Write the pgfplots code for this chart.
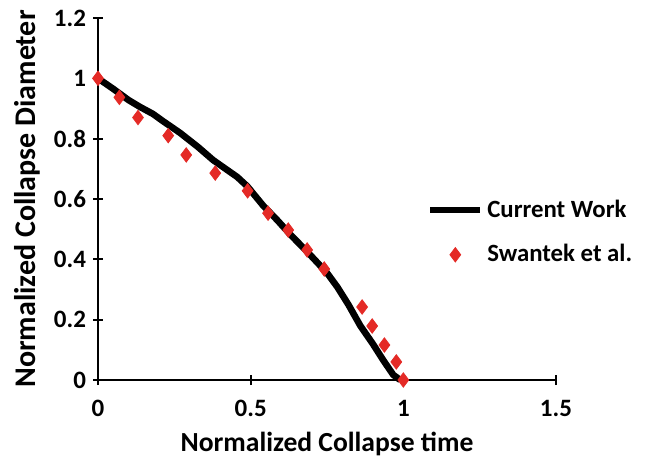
\documentclass[border=0pt]{standalone}
\usepackage{pgfplots}
\pgfplotsset{compat=1.18}
\usepackage{fontspec}
\setmainfont{Carlito}
\definecolor{swred}{RGB}{228,42,38}
\begin{document}
\begin{tikzpicture}
\path (0,0) rectangle (323pt,227.5pt);
\begin{axis}[
  at={(49pt,37.5pt)}, anchor=south west,
  scale only axis, width=229pt, height=181pt,
  xmin=0, xmax=1.5, ymin=0, ymax=1.2,
  xtick={0,0.5,1,1.5}, ytick={0,0.2,0.4,0.6,0.8,1,1.2},
  axis x line=bottom, axis y line=left,
  axis line style={-, line width=1pt, black},
  tick style={line width=1pt, black},
  tick align=center, major tick length=5pt,
  clip=false,
  /pgf/number format/assume math mode=true,
  tick label style={font=\bfseries\fontsize{12.5}{14}\selectfont},
  xticklabel style={yshift=-4pt},
  xlabel={Normalized Collapse time},
  ylabel={Normalized Collapse Diameter},
  xlabel style={font=\bfseries\fontsize{13.8}{16}\selectfont,
    at={(axis description cs:0.5,-0.178)}, anchor=center},
  ylabel style={font=\bfseries\fontsize{15}{17}\selectfont,
    at={(axis description cs:-0.154,0.5)}, anchor=center},
  legend style={at={(axis description cs:0.705,0.52)}, anchor=north west,
    draw=none, fill=none, row sep=8pt,
    font=\bfseries\fontsize{12.4}{14}\selectfont},
  legend cell align=left,
]
\addplot[black, line width=3.3pt, line join=round,
  legend image code/.code={\draw[black,line width=3pt] (0cm,0cm) -- (0.88cm,0cm);}]
coordinates {
(0,1.0) (0.05,0.965) (0.10,0.928) (0.138,0.905) (0.18,0.882) (0.213,0.858)
(0.269,0.819) (0.328,0.772) (0.377,0.729) (0.456,0.673) (0.489,0.642)
(0.541,0.578) (0.587,0.530) (0.63,0.482) (0.69,0.420) (0.75,0.355)
(0.784,0.308) (0.82,0.250) (0.859,0.180) (0.90,0.120) (0.934,0.066)
(0.967,0.017) (0.99,0.0)
};
\addlegendentry{Current Work}
\addplot[only marks, mark=diamond*, mark size=3.6pt, color=swred,
  legend image code/.code={\draw[swred] plot[only marks, mark=diamond*, mark size=3.6pt] coordinates {(0.44cm,0cm)};}]
coordinates {
(0,1.0) (0.070,0.937) (0.131,0.870) (0.230,0.810) (0.289,0.746)
(0.384,0.686) (0.490,0.627) (0.557,0.553) (0.623,0.497) (0.685,0.431)
(0.741,0.368) (0.865,0.242) (0.898,0.179) (0.938,0.116) (0.977,0.060)
(1.0,0.0)
};
\addlegendentry{Swantek et al.}
\end{axis}
\end{tikzpicture}
\end{document}
